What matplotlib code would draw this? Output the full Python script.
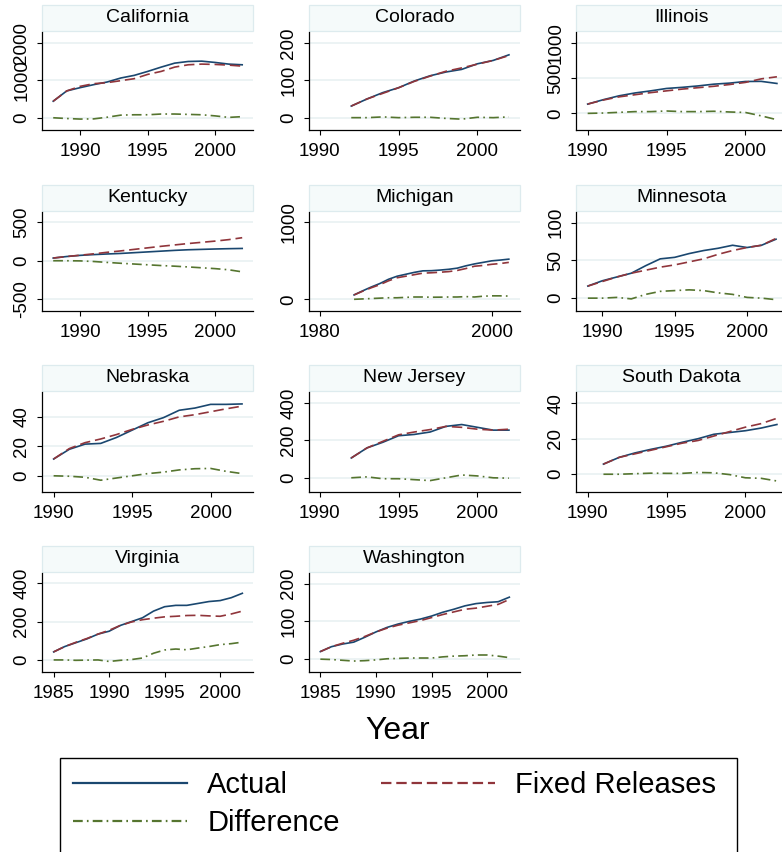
import matplotlib
matplotlib.use("Agg")
import matplotlib.pyplot as plt
from matplotlib.patches import Rectangle

plt.rcParams['font.family'] = ['Liberation Sans', 'DejaVu Sans']
plt.rcParams['lines.scale_dashes'] = False

# ---------------- data ----------------
states = ["California", "Colorado", "Illinois", "Kentucky", "Michigan", "Minnesota",
          "Nebraska", "New Jersey", "South Dakota", "Virginia", "Washington"]

ca_years = list(range(1988, 2003))
ca_actual = [442, 717, 805, 885, 956, 1062, 1133, 1239, 1354, 1460, 1504, 1513, 1478, 1434, 1416]
ca_fixed = [442, 717, 840, 911, 938, 991, 1044, 1159, 1239, 1354, 1416, 1434, 1425, 1407, 1380]
ca_diff = [0, -20, -35, -30, 15, 70, 80, 80, 100, 100, 90, 80, 50, 10, 30]

co_years = list(range(1992, 2003))
co_actual = [31, 50, 67, 80, 98, 112, 122, 129, 144, 153, 168]
co_fixed = [31, 50, 65, 80, 97, 111, 124, 133, 143, 153, 166]
co_diff = [0, 0, 2, 0, 1, 1, -2, -4, 1, 0, 2]

il_years = list(range(1990, 2003))
il_actual = [132, 195, 250, 290, 320, 354, 370, 390, 415, 430, 453, 455, 425]
il_fixed = [132, 190, 235, 265, 295, 320, 345, 365, 385, 410, 440, 490, 520]
il_diff = [0, 5, 15, 25, 25, 34, 25, 25, 30, 20, 13, -35, -90]

ky_years = list(range(1988, 2003))
ky_actual = [35, 55, 70, 80, 88, 95, 105, 115, 125, 135, 143, 148, 153, 157, 160]
ky_fixed = [35, 55, 72, 90, 110, 128, 148, 168, 188, 206, 224, 240, 256, 275, 300]
ky_diff = [0, 0, -2, -10, -22, -33, -43, -53, -63, -71, -81, -92, -103, -118, -145]

mi_years = list(range(1984, 2003))
mi_actual = [57, 110, 160, 205, 260, 300, 325, 350, 370, 372, 380, 390, 405, 435, 460, 480, 500, 510, 522]
mi_fixed = [57, 105, 150, 190, 240, 280, 300, 320, 340, 345, 352, 360, 375, 400, 430, 440, 455, 465, 480]
mi_diff = [0, 5, 10, 15, 20, 20, 25, 30, 30, 27, 28, 30, 30, 35, 30, 40, 45, 45, 42]

mn_years = list(range(1989, 2003))
mn_actual = [16, 23, 28, 33, 43, 52, 54, 59, 63, 66, 70, 67, 70, 78]
mn_fixed = [16, 22, 28, 33, 37, 41, 44, 48, 52, 58, 63, 67, 70, 79]
mn_diff = [0, 0, 1, -1, 5, 9, 10, 11, 10, 7, 5, 1, 0, -2]

ne_years = list(range(1990, 2003))
ne_actual = [11.4, 18, 21.5, 22, 26, 31, 36, 39.5, 44.5, 46, 48.5, 48.5, 48.8]
ne_fixed = [11.4, 18.5, 22.5, 25, 28, 31.5, 34.5, 37, 40, 41.5, 43.5, 45.5, 47.3]
ne_diff = [0, -0.3, -1, -3, -1.5, 0, 1.5, 2.5, 4, 4.8, 5, 3, 1.5]

nj_years = list(range(1992, 2003))
nj_actual = [106, 160, 190, 225, 232, 245, 275, 285, 270, 255, 255]
nj_fixed = [106, 160, 195, 230, 245, 258, 275, 270, 260, 255, 260]
nj_diff = [0, 5, -5, -5, -10, -15, 0, 15, 10, 0, -2]

sd_years = list(range(1991, 2003))
sd_actual = [5.7, 9.5, 12, 14, 15.8, 18, 20, 22.5, 23.5, 24.5, 26, 28]
sd_fixed = [5.7, 9.5, 11.5, 13.5, 15.5, 17.5, 19, 21.5, 24, 26.5, 28.5, 31.5]
sd_diff = [0, 0, 0.3, 0.6, 0.5, 0.5, 1, 0.8, -0.2, -2, -2.3, -3.8]

va_years = list(range(1985, 2003))
va_actual = [42, 70, 90, 110, 135, 150, 180, 200, 220, 255, 278, 285, 285, 295, 305, 310, 325, 348]
va_fixed = [42, 70, 92, 112, 135, 155, 180, 198, 210, 218, 225, 228, 232, 233, 230, 228, 240, 255]
va_diff = [0, 0, -2, -1, 0, -8, -2, 2, 10, 35, 52, 57, 53, 62, 70, 80, 85, 93]

wa_years = list(range(1985, 2003))
wa_actual = [20, 33, 40, 45, 58, 72, 84, 93, 100, 106, 114, 124, 132, 141, 147, 150, 152, 164]
wa_fixed = [20, 33, 42, 50, 60, 72, 82, 90, 96, 102, 110, 118, 125, 132, 135, 140, 145, 158]
wa_diff = [0, -1, -3, -5, -4, -2, 1, 2, 3, 3, 3, 6, 8, 9, 11, 11, 8, 4]

xticks_list = [[1990, 1995, 2000], [1990, 1995, 2000], [1990, 1995, 2000],
               [1990, 1995, 2000], [1980, 2000], [1990, 1995, 2000],
               [1990, 1995, 2000], [1990, 1995, 2000], [1990, 1995, 2000],
               [1985, 1990, 1995, 2000], [1985, 1990, 1995, 2000]]
yticks_list = [[0, 1000, 2000], [0, 100, 200], [0, 500, 1000],
               [-500, 0, 500], [0, 1000], [0, 50, 100],
               [0, 20, 40], [0, 200, 400], [0, 20, 40],
               [0, 200, 400], [0, 100, 200]]

series_labels = ["Actual", "Fixed Releases", "Difference"]

series = [
    (ca_years, ca_actual, ca_fixed, ca_diff),
    (co_years, co_actual, co_fixed, co_diff),
    (il_years, il_actual, il_fixed, il_diff),
    (ky_years, ky_actual, ky_fixed, ky_diff),
    (mi_years, mi_actual, mi_fixed, mi_diff),
    (mn_years, mn_actual, mn_fixed, mn_diff),
    (ne_years, ne_actual, ne_fixed, ne_diff),
    (nj_years, nj_actual, nj_fixed, nj_diff),
    (sd_years, sd_actual, sd_fixed, sd_diff),
    (va_years, va_actual, va_fixed, va_diff),
    (wa_years, wa_actual, wa_fixed, wa_diff),
]

xlims = [(1987.17, 2002.8), (1989.32, 2002.7), (1989.26, 2002.64),
         (1987.17, 2002.8), (1978.76, 2003.3), (1988.18, 2002.76),
         (1989.26, 2002.7), (1989.32, 2002.7), (1989.26, 2002.64),
         (1983.95, 2002.96), (1983.98, 2002.96)]
ylims = [(-327, 2292), (-33, 229), (-236, 1156),
         (-655, 635), (-152, 1135), (-17, 114),
         (-11, 56.9), (-76, 459), (-10, 46.3),
         (-63, 454), (-34, 228)]

# ---------------- styling ----------------
W, H = 782, 852
C_ACT = "#1A476F"
C_FIX = "#90353B"
C_DIF = "#55752F"
GRID = "#EAF2F3"

fig = plt.figure(figsize=(W / 100, H / 100), dpi=100)
fig.patch.set_facecolor("white")

col_left = [42, 309, 576]
rows = [(32, 130), (212, 311), (392, 492), (573, 672)]
pw = 211

handles = None
for i, name in enumerate(states):
    r, c = divmod(i, 3)
    top, bot = rows[r]
    ax = fig.add_axes([col_left[c] / W, 1 - bot / H, pw / W, (bot - top) / H])
    yrs, act, fix, dif = series[i]
    l1, = ax.plot(yrs, act, color=C_ACT, lw=1.2, solid_joinstyle='round')
    l2, = ax.plot(yrs, fix, color=C_FIX, lw=1.2, linestyle=(0, (7.5, 3.5)))
    l3, = ax.plot(yrs, dif, color=C_DIF, lw=1.2, linestyle=(0, (7, 3, 1.2, 3)))
    if handles is None:
        handles = [l1, l2, l3]
    ax.set_xlim(*xlims[i])
    ax.set_ylim(*ylims[i])
    ax.set_xticks(xticks_list[i])
    ax.set_yticks(yticks_list[i])
    ax.set_yticklabels([str(v) for v in yticks_list[i]], rotation=90, va='center')
    ax.tick_params(axis='both', labelsize=13.5, length=3.5, width=0.8, color='black', pad=6)
    ax.tick_params(axis='y', pad=5)
    ax.yaxis.grid(True, color=GRID, lw=1.3)
    ax.set_axisbelow(True)
    for s in ['top', 'right']:
        ax.spines[s].set_visible(False)
    for s in ['left', 'bottom']:
        ax.spines[s].set_linewidth(0.9)
        ax.spines[s].set_color('black')
    # strip title box
    box_h = 25.5 / (bot - top)
    rect = Rectangle((0, 1.0 + 1.5 / (bot - top)), 1, box_h, transform=ax.transAxes,
                     facecolor="#F5FAFA", edgecolor="#DDEBEE", lw=0.9, clip_on=False)
    ax.add_patch(rect)
    ax.text(0.5, 1.0 + (1.5 + 25.5 / 2) / (bot - top), name, transform=ax.transAxes,
            ha='center', va='center', fontsize=14)

fig.text(398 / W, 1 - 731 / H, "Year", ha='center', va='center', fontsize=23)

# legend frame (open at the bottom, running past the figure edge)
frame = Rectangle((60 / W, -0.05), (737 - 60) / W, (1 - 758 / H) + 0.05,
                  transform=fig.transFigure, facecolor='white', edgecolor='black',
                  lw=1.0, zorder=1)
fig.patches.append(frame)

# column-major fill: Actual, Difference | Fixed Releases
leg = fig.legend([handles[0], handles[2], handles[1]],
                 [series_labels[0], series_labels[2], series_labels[1]], ncol=2,
                 loc='upper left', bbox_to_anchor=(60 / W, 1 - 758 / H),
                 fontsize=21, frameon=False,
                 handlelength=3.9, handletextpad=0.7, columnspacing=1.42,
                 borderpad=0.45, labelspacing=0.35, borderaxespad=0)
leg.set_zorder(2)
for lh in leg.get_lines():
    lh.set_linewidth(1.6)

fig.savefig("out.png", dpi=100, facecolor="white")
